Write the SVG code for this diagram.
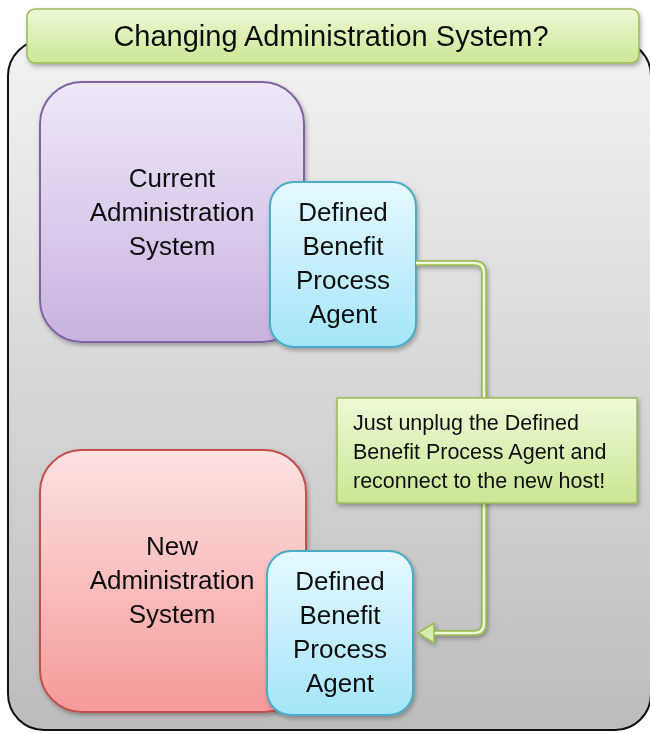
<svg xmlns="http://www.w3.org/2000/svg" width="650" height="733" viewBox="0 0 650 733">
<style>
  text { font-family: "Liberation Sans", Arial, sans-serif; fill: #111; }
  .big { font-size: 26px; text-anchor: middle; }
  .title { font-size: 29px; text-anchor: middle; }
  .note { font-size: 21.5px; }
</style>
<defs>
  <linearGradient id="gOuter" x1="0" y1="0" x2="0" y2="1">
    <stop offset="0" stop-color="#f2f2f2"/>
    <stop offset="1" stop-color="#bcbcbc"/>
  </linearGradient>
  <linearGradient id="gGreen" x1="0" y1="0" x2="0" y2="1">
    <stop offset="0" stop-color="#eef9d6"/>
    <stop offset="1" stop-color="#c9e794"/>
  </linearGradient>
  <linearGradient id="gPurple" x1="0" y1="0" x2="0" y2="1">
    <stop offset="0" stop-color="#efe8f8"/>
    <stop offset="1" stop-color="#c8b2df"/>
  </linearGradient>
  <linearGradient id="gRed" x1="0" y1="0" x2="0" y2="1">
    <stop offset="0" stop-color="#fde2e2"/>
    <stop offset="1" stop-color="#f59a9a"/>
  </linearGradient>
  <linearGradient id="gBlue" x1="0" y1="0" x2="0" y2="1">
    <stop offset="0" stop-color="#e6f9fe"/>
    <stop offset="1" stop-color="#a4e5f9"/>
  </linearGradient>
  <filter id="shadow" x="-10%" y="-10%" width="125%" height="125%">
    <feDropShadow dx="1.5" dy="2.5" stdDeviation="2" flood-color="#000" flood-opacity="0.3"/>
  </filter>
</defs>

<g id="container">
  <rect x="8" y="40" width="643" height="690" rx="36" ry="36" fill="url(#gOuter)" stroke="#111" stroke-width="2"/>
</g>

<g id="title" filter="url(#shadow)">
  <rect x="27" y="9" width="612" height="54" rx="8" ry="8" fill="url(#gGreen)" stroke="#9bbb59" stroke-width="1.5"/>
  <text class="title" x="331" y="46">Changing Administration System?</text>
</g>

<g id="current-system" filter="url(#shadow)">
  <rect x="40" y="82" width="264" height="260" rx="42" ry="42" fill="url(#gPurple)" stroke="#8064a2" stroke-width="2"/>
  <text class="big" x="172" y="187">Current</text>
  <text class="big" x="172" y="221">Administration</text>
  <text class="big" x="172" y="255">System</text>
</g>

<g id="current-agent" filter="url(#shadow)">
  <rect x="270" y="182" width="146" height="165" rx="24" ry="24" fill="url(#gBlue)" stroke="#4bacc6" stroke-width="2"/>
  <text class="big" x="343" y="221">Defined</text>
  <text class="big" x="343" y="255">Benefit</text>
  <text class="big" x="343" y="289">Process</text>
  <text class="big" x="343" y="323">Agent</text>
</g>

<g id="new-system" filter="url(#shadow)">
  <rect x="40" y="450" width="266" height="262" rx="42" ry="42" fill="url(#gRed)" stroke="#c0504d" stroke-width="2"/>
  <text class="big" x="172" y="555">New</text>
  <text class="big" x="172" y="589">Administration</text>
  <text class="big" x="172" y="623">System</text>
</g>

<g id="new-agent" filter="url(#shadow)">
  <rect x="267" y="551" width="146" height="164" rx="24" ry="24" fill="url(#gBlue)" stroke="#4bacc6" stroke-width="2"/>
  <text class="big" x="340" y="590">Defined</text>
  <text class="big" x="340" y="624">Benefit</text>
  <text class="big" x="340" y="658">Process</text>
  <text class="big" x="340" y="692">Agent</text>
</g>

<g id="connectors" filter="url(#shadow)">
  <path d="M416,263 H474 Q484,263 484,273 V623 Q484,633 474,633 H432" fill="none" stroke="#9bbb59" stroke-width="6"/>
  <path d="M416,263 H474 Q484,263 484,273 V623 Q484,633 474,633 H432" fill="none" stroke="#eef8dc" stroke-width="2.5"/>
  <polygon points="418,633 434,623 434,643" fill="#d6ecae" stroke="#9bbb59" stroke-width="1.5" stroke-linejoin="round"/>
</g>

<g id="note" filter="url(#shadow)">
  <rect x="337" y="398" width="300" height="105" fill="url(#gGreen)" stroke="#9bbb59" stroke-width="1.5"/>
  <text class="note" x="353" y="430">Just unplug the Defined</text>
  <text class="note" x="353" y="459">Benefit Process Agent and</text>
  <text class="note" x="353" y="488">reconnect to the new host!</text>
</g>
</svg>
